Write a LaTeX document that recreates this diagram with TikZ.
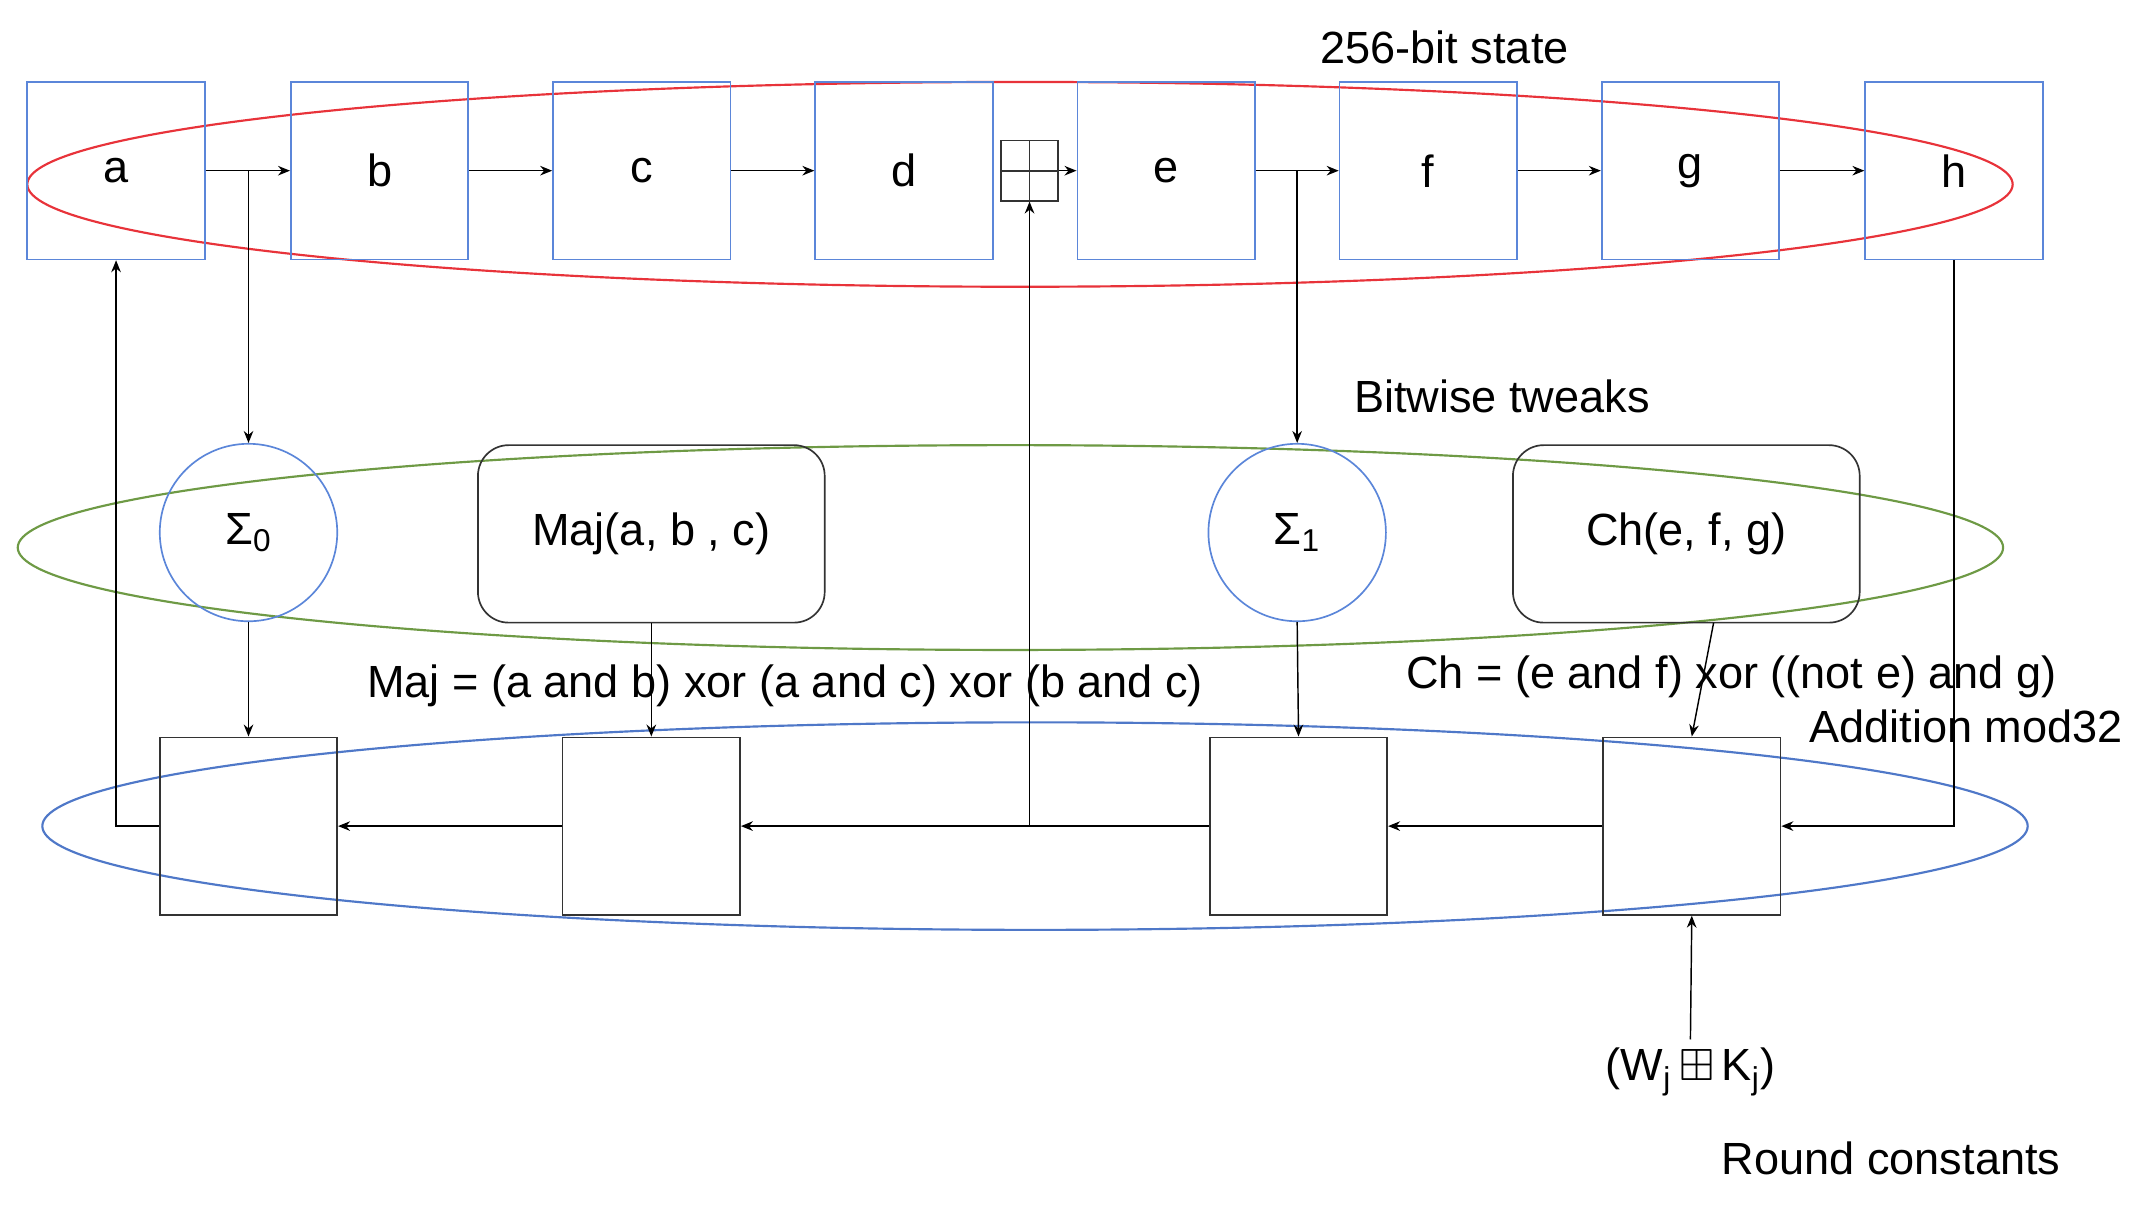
\documentclass[tikz,border=0pt]{standalone}
\usepackage{fontspec}
\usepackage{amssymb}
\setmainfont{Liberation Sans}
\usetikzlibrary{arrows.meta}
\definecolor{sblue}{HTML}{5B86D9}
\definecolor{sred}{HTML}{E8333A}
\definecolor{sgreen}{HTML}{6E9A45}
\definecolor{eblue}{HTML}{4F78C8}
\begin{document}
\begin{tikzpicture}[x=0.02cm,y=-0.02cm,
  font=\fontsize{18.8}{22}\selectfont,
  st/.style={draw=sblue,line width=0.7pt,minimum width=2.6cm,minimum height=2.6cm,inner sep=0},
  bx/.style={draw=black!80,line width=0.7pt,minimum width=2.6cm,minimum height=2.6cm,inner sep=0},
  rb/.style={draw=black!80,line width=0.7pt,rounded corners=0.45cm,minimum width=5.08cm,minimum height=2.6cm,inner sep=0},
  cir/.style={draw=sblue,line width=0.7pt,circle,minimum size=2.6cm,inner sep=0},
  ar/.style={-{Stealth[length=5pt,width=4pt]},line width=0.6pt},
  ln/.style={line width=0.6pt}]
\useasboundingbox (0,0) rectangle (1568,883);
\draw[sred,line width=0.9pt] (747,135) ellipse [x radius=727,y radius=75];
\draw[sgreen,line width=0.9pt] (740,401) ellipse [x radius=727,y radius=75];
\draw[eblue,line width=0.9pt] (758,605) ellipse [x radius=727,y radius=76];
% state
\node[st] (a) at (85,125) {a};
\node[st] (b) at (278,125) {b};
\node[st] (c) at (470,125) {c};
\node[st] (d) at (662,125) {d};
\node[draw=black!80,line width=0.7pt,minimum width=0.84cm,minimum height=0.88cm,inner sep=0,
  path picture={\draw[line width=0.7pt] (path picture bounding box.north) -- (path picture bounding box.south)
  (path picture bounding box.west) -- (path picture bounding box.east);}] (bp) at (754,125) {};
\node[st] (e) at (854,125) {e};
\node[st] (f) at (1046,125) {f};
\node[st] (g) at (1238,125) {g};
\node[st] (h) at (1431,125) {h};
\draw[ar] (a) -- (b); \draw[ar] (b) -- (c); \draw[ar] (c) -- (d);
\draw[ar] (bp) -- (e); \draw[ar] (e) -- (f); \draw[ar] (f) -- (g); \draw[ar] (g) -- (h);
% tweaks
\node[cir] (s0) at (182,390) {Σ\textsubscript{0}};
\node[rb] (maj) at (477,391) {Maj(a, b , c)};
\node[cir] (s1) at (950,390) {Σ\textsubscript{1}};
\node[rb] (ch) at (1235,391) {Ch(e, f, g)};
\coordinate (ta) at (182,125);
\coordinate (te) at (950,125);
\draw[ar] (ta) -- (s0.north);
\draw[ar] (te) -- (s1.north);
% adders
\node[bx] (p1) at (182,605) {};
\node[bx] (p2) at (477,605) {};
\node[bx] (p3) at (951,605) {};
\node[bx] (p4) at (1239,605) {};
\draw[ar] (s0.south) -- (p1.north);
\draw[ar] (maj.south) -- (p2.north);
\draw[ar] (s1.south) -- (p3.north);
\draw[ar] (1255,456) -- (p4.north);
\draw[ar] (p4) -- (p3);
\draw[ar] (p3) -- (p2);
\draw[ar] (p2) -- (p1);
\coordinate (j) at (754,605);
\draw[ar] (j) -- (bp.south);
\draw[ar] (p1.west) -| (a.south);
\draw[ar] (h.south) |- (p4.east);
\node (wk) at (1238,785) {(W\textsubscript{j}\,$\boxplus$\,K\textsubscript{j})};
\draw[ar] (wk.north) -- (p4.south);
% labels
\node (l1) at (1058,35) {256-bit state};
\node (l2) at (1100,290) {Bitwise tweaks};
\node (l3) at (575,502) {Maj = (a and b) xor (a and c) xor (b and c)};
\node (l4) at (1268,496) {Ch = (e and f) xor ((not e) and g)};
\node (l5) at (1440,532) {Addition mod32};
\node (l6) at (1385,848) {Round constants};
\end{tikzpicture}
\end{document}
